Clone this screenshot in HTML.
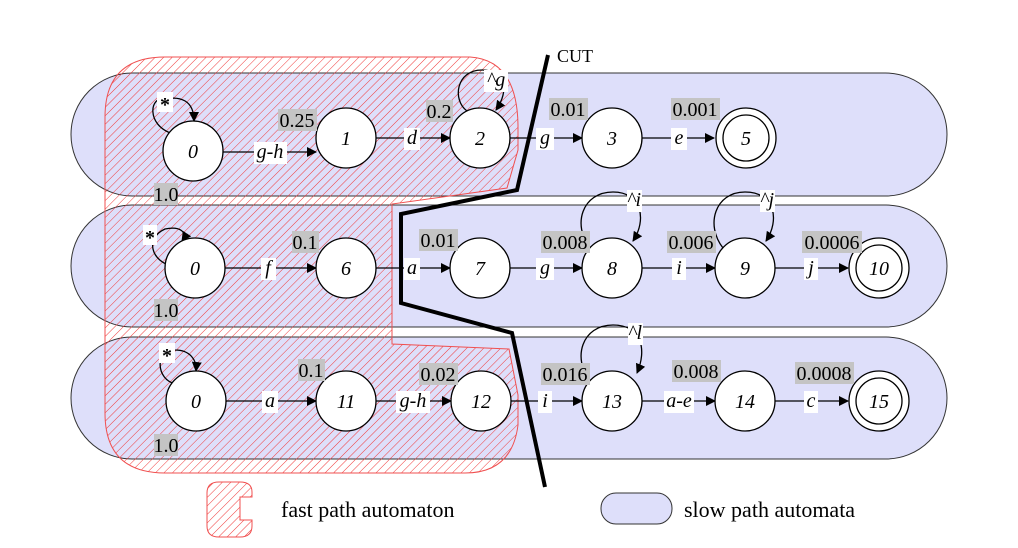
<!DOCTYPE html>
<html><head><meta charset="utf-8"><style>
html,body{margin:0;padding:0;background:#fff;width:1018px;height:548px;overflow:hidden}
svg{display:block}
</style></head><body>
<svg width="1018" height="548" viewBox="0 0 1018 548" xmlns="http://www.w3.org/2000/svg" font-family="'Liberation Serif', 'DejaVu Serif', serif" font-size="20">
<defs>
<pattern id="h" patternUnits="userSpaceOnUse" width="6" height="6" patternTransform="rotate(45)">
<line x1="0" y1="0" x2="0" y2="6" stroke="#f03a3a" stroke-width="1"/>
</pattern>
<marker id="a" markerWidth="10" markerHeight="10" refX="9" refY="5" orient="auto" markerUnits="userSpaceOnUse">
<path d="M0,0 L10,5 L0,10 z" fill="#000"/>
</marker>
</defs>
<g fill="#dedffa" stroke="#333" stroke-width="1">
<rect x="71" y="73" width="876" height="123" rx="61.5"/>
<rect x="71" y="205" width="876" height="122" rx="61"/>
<rect x="71" y="337" width="876" height="122" rx="61"/>
</g>
<path d="M165,57 L470,57 Q517,60 518,125 L518,150 L507,188 L392,204 L392,344 L509,349 L518,395 L518,425 Q512,473 465,473 L165,473 Q105,473 105,413 L105,117 Q105,57 165,57 Z" fill="url(#h)" stroke="#f05050" stroke-width="1"/>
<g stroke="#000" stroke-width="1.3" fill="none" marker-end="url(#a)">
<line x1="223" y1="152" x2="316" y2="152"/>
<line x1="376" y1="138" x2="450" y2="138"/>
<line x1="510" y1="138" x2="582" y2="138"/>
<line x1="642" y1="138" x2="714" y2="138"/>
<line x1="225" y1="268" x2="316" y2="268"/>
<line x1="376" y1="268" x2="450" y2="268"/>
<line x1="510" y1="268" x2="582" y2="268"/>
<line x1="642" y1="268" x2="715" y2="268"/>
<line x1="775" y1="268" x2="848" y2="268"/>
<line x1="226" y1="401" x2="316" y2="401"/>
<line x1="376" y1="401" x2="451" y2="401"/>
<line x1="511" y1="401" x2="582" y2="401"/>
<line x1="642" y1="401" x2="715" y2="401"/>
<line x1="775" y1="401" x2="848" y2="401"/>
<path d="M173,134 C145,125 150,95 165,99 C180,96 194,100 194,121"/>
<path d="M175,267 C150,262 145,238 165,229 C180,226 188,232 182,241"/>
<path d="M176,384 C155,380 155,348 175,350 C190,350 197,360 196,371"/>
<path d="M467,111 C452,100 456,70 482,70 C505,70 510,90 496,110"/>
<path d="M590,248 C572,225 582,192 613,192 C642,192 647,220 633,241"/>
<path d="M723,248 C705,225 715,192 745,192 C775,192 780,220 766,241"/>
<path d="M590,381 C572,358 582,325 613,325 C642,325 647,350 637,373"/>
</g>
<g fill="#fff" stroke="#000" stroke-width="1.3">
<circle cx="193" cy="151" r="30"/><circle cx="346" cy="138" r="30"/><circle cx="480" cy="138" r="30"/><circle cx="612" cy="138" r="30"/>
<circle cx="746" cy="138" r="30"/><circle cx="746" cy="138" r="23"/>
<circle cx="195" cy="268" r="30"/><circle cx="346" cy="268" r="30"/><circle cx="480" cy="268" r="30"/><circle cx="612" cy="268" r="30"/><circle cx="745" cy="268" r="30"/>
<circle cx="879" cy="268" r="30"/><circle cx="879" cy="268" r="23"/>
<circle cx="196" cy="401" r="30"/><circle cx="346" cy="401" r="30"/><circle cx="481" cy="401" r="30"/><circle cx="612" cy="401" r="30"/><circle cx="745" cy="401" r="30"/>
<circle cx="879" cy="401" r="30"/><circle cx="879" cy="401" r="23"/>
</g>
<g text-anchor="middle" font-style="italic">
<text x="193" y="158">0</text><text x="346" y="145">1</text><text x="480" y="145">2</text><text x="612" y="145">3</text><text x="746" y="145">5</text>
<text x="195" y="275">0</text><text x="346" y="275">6</text><text x="480" y="275">7</text><text x="612" y="275">8</text><text x="745" y="275">9</text><text x="879" y="275">10</text>
<text x="196" y="408">0</text><text x="346" y="408">11</text><text x="481" y="408">12</text><text x="612" y="408">13</text><text x="745" y="408">14</text><text x="879" y="408">15</text>
</g>
<g fill="#c4c4c4">
<rect x="154" y="183" width="24" height="22"/><rect x="278" y="109" width="39" height="22"/><rect x="426" y="100" width="27" height="22"/><rect x="549" y="98" width="39" height="22"/><rect x="671" y="98" width="49" height="22"/>
<rect x="154" y="299" width="24" height="22"/><rect x="292" y="231" width="27" height="22"/><rect x="419" y="229" width="39" height="22"/><rect x="541" y="231" width="49" height="22"/><rect x="667" y="231" width="49" height="22"/><rect x="802" y="231" width="60" height="22"/>
<rect x="154" y="434" width="24" height="22"/><rect x="298" y="359" width="27" height="22"/><rect x="419" y="363" width="39" height="22"/><rect x="541" y="363" width="49" height="22"/><rect x="672" y="360" width="49" height="22"/><rect x="795" y="362" width="59" height="22"/>
</g>
<g text-anchor="middle">
<text x="166" y="201">1.0</text><text x="297" y="127">0.25</text><text x="439" y="118">0.2</text><text x="568" y="116">0.01</text><text x="695" y="116">0.001</text>
<text x="166" y="317">1.0</text><text x="305" y="249">0.1</text><text x="438" y="247">0.01</text><text x="565" y="249">0.008</text><text x="691" y="249">0.006</text><text x="832" y="249">0.0006</text>
<text x="166" y="452">1.0</text><text x="311" y="377">0.1</text><text x="438" y="381">0.02</text><text x="565" y="381">0.016</text><text x="696" y="378">0.008</text><text x="824" y="380">0.0008</text>
</g>
<g fill="#fff">
<rect x="254" y="142" width="33" height="22"/><rect x="404" y="128" width="16" height="22"/><rect x="536" y="128" width="18" height="22"/><rect x="671" y="128" width="16" height="22"/>
<rect x="261" y="258" width="15" height="22"/><rect x="404" y="258" width="16" height="22"/><rect x="536" y="258" width="18" height="22"/><rect x="672" y="258" width="14" height="22"/><rect x="804" y="258" width="14" height="22"/>
<rect x="262" y="391" width="16" height="22"/><rect x="396" y="391" width="34" height="22"/><rect x="538" y="391" width="14" height="22"/><rect x="664" y="391" width="30" height="22"/><rect x="804" y="391" width="14" height="22"/>
<rect x="157" y="92" width="16" height="20"/><rect x="143" y="225" width="14" height="20"/><rect x="159" y="343" width="16" height="20"/>
<rect x="484" y="70" width="24" height="22"/><rect x="627" y="190" width="15" height="22"/><rect x="760" y="190" width="15" height="22"/><rect x="628" y="323" width="15" height="22"/>
</g>
<g text-anchor="middle" font-style="italic">
<text x="270" y="158">g-h</text><text x="412" y="144">d</text><text x="545" y="144">g</text><text x="679" y="144">e</text>
<text x="268" y="274">f</text><text x="412" y="274">a</text><text x="545" y="274">g</text><text x="679" y="274">i</text><text x="811" y="274">j</text>
<text x="270" y="407">a</text><text x="413" y="407">g-h</text><text x="545" y="407">i</text><text x="679" y="407">a-e</text><text x="811" y="407">c</text>
<text x="496" y="86">^g</text><text x="634" y="206">^i</text><text x="767" y="206">^j</text><text x="635" y="339">^l</text>
</g>
<g text-anchor="middle" font-weight="bold">
<text x="165" y="111">*</text><text x="150" y="244">*</text><text x="167" y="362">*</text>
</g>
<polyline points="548,55 517,190 401,214 401,303 512,333 545,487" fill="none" stroke="#000" stroke-width="4"/>
<text x="557" y="62" font-size="18">CUT</text>
<path d="M219,482 L240,482 Q252,482 252,492 L252,497 L240,497 L240,520 L252,520 L252,526 Q252,537 240,537 L219,537 Q207,537 207,526 L207,493 Q207,482 219,482 Z" fill="url(#h)" stroke="#f05050" stroke-width="1"/>
<text x="281" y="517" font-size="22">fast path automaton</text>
<rect x="601" y="493" width="71" height="31" rx="15" fill="#dedffa" stroke="#333" stroke-width="1"/>
<text x="684" y="517" font-size="22">slow path automata</text>
</svg>
</body></html>
